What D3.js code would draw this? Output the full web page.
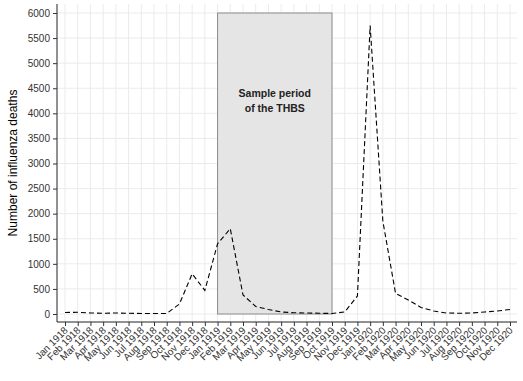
<!DOCTYPE html>
<html><head><meta charset="utf-8">
<script src="https://cdn.jsdelivr.net/npm/d3@7"></script>
<style>body{margin:0;background:#fff}svg{display:block}</style>
</head><body>
<svg id="c" width="523" height="381"></svg>
<script>
const months = ["Jan","Feb","Mar","Apr","May","Jun","Jul","Aug","Sep","Oct","Nov","Dec"];
const years = [1918, 1919, 1920];
const categories = years.flatMap(y => months.map(m => m + " " + y));
const deaths = [30,35,20,15,20,15,10,10,10,200,800,470,
                1400,1700,380,150,90,40,25,20,15,10,40,360,
                5750,1850,410,280,130,60,20,15,20,40,60,90];
const yTicks = [0,500,1000,1500,2000,2500,3000,3500,4000,4500,5000,5500,6000];
const samplePeriod = ["Jan 1919","Oct 1919"];
const sampleLabel = ["Sample period","of the THBS"];
const yTitle = "Number of influenza deaths";

const svg = d3.select("#c");
const L = 57, R = 517, T = 4, B = 322;
const x = d3.scalePoint().domain(categories).range([65, 510]);
const y = d3.scaleLinear().domain([0, 6000]).range([314, 13]);
const font = "'Liberation Sans', Arial, Helvetica, sans-serif";

// grid
const g = svg.append("g");
g.selectAll("line.v").data(categories).join("line")
  .attr("x1", d => x(d)).attr("x2", d => x(d)).attr("y1", T).attr("y2", B)
  .attr("stroke", "#ebebeb").attr("stroke-width", 1);
g.selectAll("line.h").data(yTicks).join("line")
  .attr("x1", L).attr("x2", R).attr("y1", d => y(d)).attr("y2", d => y(d))
  .attr("stroke", "#ebebeb").attr("stroke-width", 1);

// sample rect
svg.append("rect")
  .attr("x", x(samplePeriod[0])).attr("y", y(6000))
  .attr("width", x(samplePeriod[1]) - x(samplePeriod[0]))
  .attr("height", y(0) - y(6000))
  .attr("fill", "#e5e5e5").attr("stroke", "#8c8c8c").attr("stroke-width", 1);
const cx = (x(samplePeriod[0]) + x(samplePeriod[1])) / 2;
svg.append("g").selectAll("text").data(sampleLabel).join("text")
  .attr("x", cx).attr("y", (d, i) => 97 + i * 15)
  .attr("text-anchor", "middle").attr("font-family", font)
  .attr("font-size", 10.5).attr("font-weight", "bold").attr("fill", "#222")
  .text(d => d);

// line
const line = d3.line().x((d, i) => x(categories[i])).y(d => y(d));
svg.append("path").datum(deaths).attr("d", line)
  .attr("fill", "none").attr("stroke", "#000").attr("stroke-width", 1.1)
  .attr("stroke-dasharray", "5,3");

// axes
const ya = svg.append("g").attr("transform", `translate(${L},0)`)
  .call(d3.axisLeft(y).tickValues(yTicks).tickFormat(d3.format("d")).tickSize(4).tickPadding(3).tickSizeOuter(0));
ya.select(".domain").attr("d", `M0,${T}V${B}`).attr("stroke", "#222");
ya.selectAll(".tick line").attr("stroke", "#333");
ya.selectAll(".tick text").attr("font-family", font).attr("font-size", 10).attr("fill", "#333");

const xa = svg.append("g").attr("transform", `translate(0,${B})`)
  .call(d3.axisBottom(x).tickSize(4).tickSizeOuter(0));
xa.select(".domain").attr("d", `M${L},0H${R}`).attr("stroke", "#222");
xa.selectAll(".tick line").attr("stroke", "#333");
xa.selectAll(".tick text").attr("font-family", font).attr("font-size", 10).attr("fill", "#333")
  .attr("text-anchor", "end").attr("dy", null).attr("y", 0)
  .attr("transform", "translate(3,9) rotate(-45)");

svg.append("text").attr("transform", `translate(17,${(T + B) / 2}) rotate(-90)`)
  .attr("text-anchor", "middle").attr("font-family", font).attr("font-size", 12)
  .attr("fill", "#000").text(yTitle);
</script>
</body></html>
